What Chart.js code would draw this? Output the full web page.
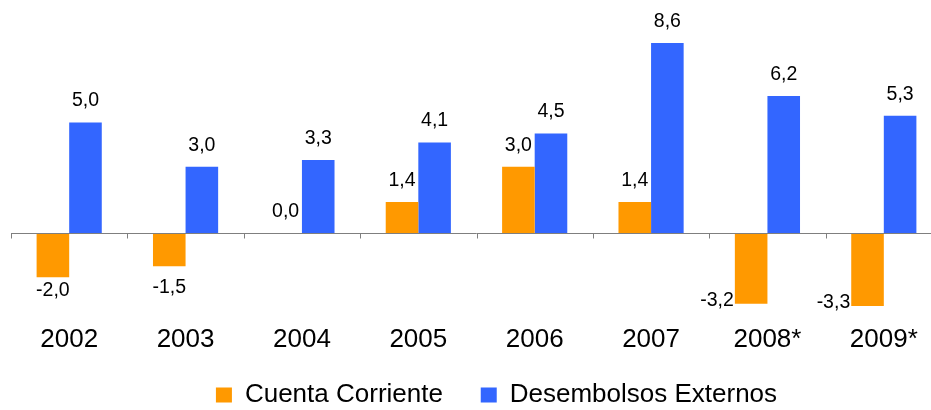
<!DOCTYPE html>
<html>
<head>
<meta charset="utf-8">
<script src="https://cdn.jsdelivr.net/npm/chart.js@4"></script>
<style>
    html, body { margin: 0; padding: 0; background: #fff; overflow: hidden; }
    #wrap { position: relative; width: 982px; height: 418px; }
</style>
</head>
<body>
<div id="wrap"><canvas id="chart"></canvas></div>
<script>
const years = ["2002", "2003", "2004", "2005", "2006", "2007", "2008*", "2009*"];
const cuentaCorriente = [-2.0, -1.5, 0.0, 1.4, 3.0, 1.4, -3.2, -3.3];
const desembolsos = [5.0, 3.0, 3.3, 4.1, 4.5, 8.6, 6.2, 5.3];
const seriesNames = ["Cuenta Corriente", "Desembolsos Externos"];
const yMin = -4;
const yMax = 10;

const FONT = "'Liberation Sans', Arial, sans-serif";

// zero line with little ticks at category boundaries
const zeroAxis = {
    id: "zeroAxis",
    afterDatasetsDraw(chart) {
        const { ctx, chartArea, scales: { y } } = chart;
        const y0 = Math.round(y.getPixelForValue(0)) + 0.5;
        const step = (chartArea.right - chartArea.left) / years.length;
        ctx.save();
        ctx.strokeStyle = "#7f7f7f";
        ctx.lineWidth = 1;
        ctx.beginPath();
        ctx.moveTo(chartArea.left, y0);
        ctx.lineTo(chartArea.right, y0);
        for (let i = 0; i <= years.length; i++) {
            const xp = Math.round(chartArea.left + i * step) + 0.5;
            ctx.moveTo(xp, y0);
            ctx.lineTo(xp, y0 + 5);
        }
        ctx.stroke();
        ctx.restore();
    }
};

// value labels, comma decimals
const barLabels = {
    id: "barLabels",
    afterDatasetsDraw(chart) {
        const ctx = chart.ctx;
        const zero = chart.scales.y.getPixelForValue(0);
        ctx.save();
        ctx.font = "19.5px " + FONT;
        ctx.fillStyle = "#000";
        ctx.textBaseline = "middle";
        chart.data.datasets.forEach((ds, di) => {
            chart.getDatasetMeta(di).data.forEach((bar, i) => {
                const v = ds.data[i];
                const txt = v.toFixed(1).replace(".", ",");
                if (v >= 0) {
                    ctx.textAlign = "center";
                    ctx.fillText(txt, bar.x, bar.y - 21.5);
                } else if (v > -2.5) {
                    ctx.textAlign = "center";
                    ctx.fillText(txt, bar.x, Math.max(bar.y + 13, zero + 55));
                } else {
                    ctx.textAlign = "right";
                    ctx.fillText(txt, bar.x - bar.width / 2 - 1, bar.y - 3);
                }
            });
        });
        ctx.restore();
    }
};

new Chart(document.getElementById("chart"), {
    type: "bar",
    data: {
        labels: years,
        datasets: [
            { label: seriesNames[0], data: cuentaCorriente, backgroundColor: "#FF9900" },
            { label: seriesNames[1], data: desembolsos, backgroundColor: "#3366FF" }
        ]
    },
    options: {
        responsive: true,
        maintainAspectRatio: false,
        animation: false,
        layout: { padding: { left: 11, top: 12, right: 0, bottom: 0 } },
        datasets: { bar: { categoryPercentage: 0.56, barPercentage: 1.0 } },
        plugins: {
            legend: {
                position: "bottom",
                labels: {
                    boxWidth: 16,
                    boxHeight: 15,
                    padding: 30.6,
                    color: "#000",
                    font: { size: 26, family: FONT },
                    generateLabels(chart) {
                        const items = Chart.defaults.plugins.legend.labels.generateLabels(chart);
                        // a bit more room after the first entry
                        items[0].text += " ";
                        return items;
                    }
                }
            },
            tooltip: { enabled: false }
        },
        scales: {
            x: {
                grid: { display: false, drawTicks: false },
                border: { display: false },
                ticks: {
                    color: "#000",
                    padding: 3,
                    maxRotation: 0,
                    autoSkip: false,
                    font: { size: 26, family: FONT }
                },
                afterFit(s) { s.height = 30; }
            },
            y: {
                position: "right",
                min: yMin,
                max: yMax,
                grid: { display: false },
                border: { display: false },
                ticks: { display: false },
                afterFit(s) { s.width = 40; }
            }
        }
    },
    plugins: [zeroAxis, barLabels]
});
</script>
</body>
</html>
